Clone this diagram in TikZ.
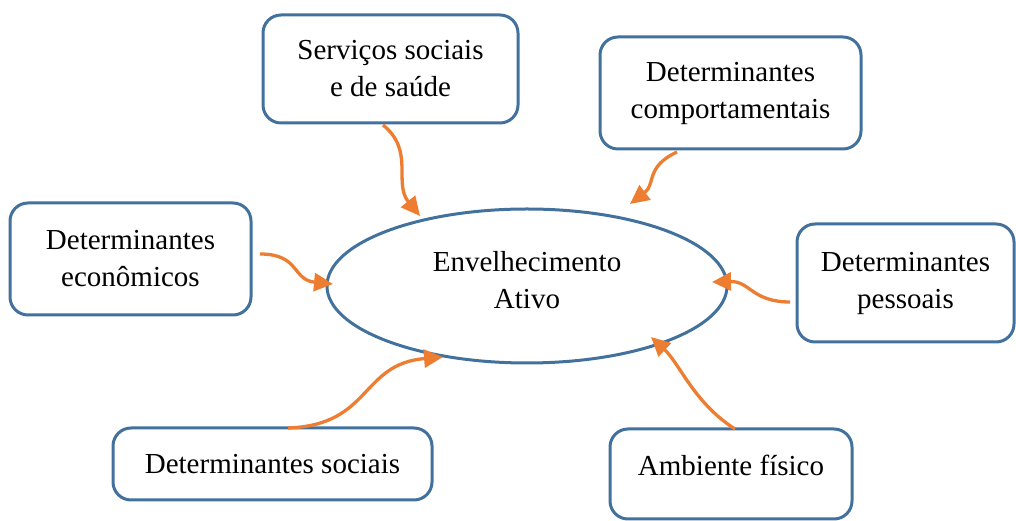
\documentclass[tikz,border=0pt]{standalone}
\usepackage{fontspec}
\setmainfont{Liberation Serif}
\usetikzlibrary{arrows.meta}
\definecolor{bblue}{HTML}{41719C}
\definecolor{aorange}{HTML}{ED7D31}
\begin{document}
\begin{tikzpicture}[x=1pt,y=1pt,
  box/.style={draw=bblue, line width=3pt, rounded corners=18pt, fill=white,
    align=center, inner sep=0pt, font=\fontsize{29}{37}\selectfont},
  lbl/.style={align=center, inner sep=0pt, font=\fontsize{29}{37}\selectfont},
  conn/.style={draw=aorange, line width=3.3pt, -{Triangle[length=19pt,width=18pt]}}]
\useasboundingbox (0,0) rectangle (1016,521);
% central ellipse
\draw[bblue, line width=3pt] (527,235) ellipse [x radius=200, y radius=77];
\node[lbl] (center) at (527,241) {Envelhecimento\\Ativo};
% boxes
\node[box, minimum width=255, minimum height=108] (serv) at (390.5,452) {Serviços sociais\\e de saúde};
\node[box, minimum width=261, minimum height=112] (comp) at (730.5,428) {Determinantes\\comportamentais};
\node[box, minimum width=241, minimum height=112] (econ) at (130.5,262) {Determinantes\\econômicos};
\node[box, minimum width=217, minimum height=118] (pess) at (905.5,238) {Determinantes\\pessoais};
\node[box, minimum width=319, minimum height=72] (soc) at (272.5,57) {Determinantes sociais};
\node[box, minimum width=242, minimum height=90] (amb) at (731,47) {};
\node[lbl] (ambt) at (731,56) {Ambiente físico};
% connector end points
\coordinate (s1) at (383,396); \coordinate (t1) at (420,305);
\coordinate (s2) at (677,369); \coordinate (t2) at (630,317);
\coordinate (s3) at (790,219); \coordinate (t3) at (712,239);
\coordinate (s4) at (260,267); \coordinate (t4) at (333,237);
\coordinate (s5) at (288,93);  \coordinate (t5) at (443,164);
\coordinate (s6) at (735,92);  \coordinate (t6) at (651,184);
\draw[conn] (s1) .. controls (415,370) and (393,338) .. (t1);
\draw[conn] (s2) .. controls (645,354) and (656,337) .. (t2);
\draw[conn] (s3) .. controls (752,219) and (750,240) .. (t3);
\draw[conn] (s4) .. controls (300,267) and (292,241) .. (t4);
\draw[conn] (s5) .. controls (372,96) and (360,157) .. (t5);
\draw[conn] (s6) .. controls (694,118) and (680,157) .. (t6);
\end{tikzpicture}
\end{document}
